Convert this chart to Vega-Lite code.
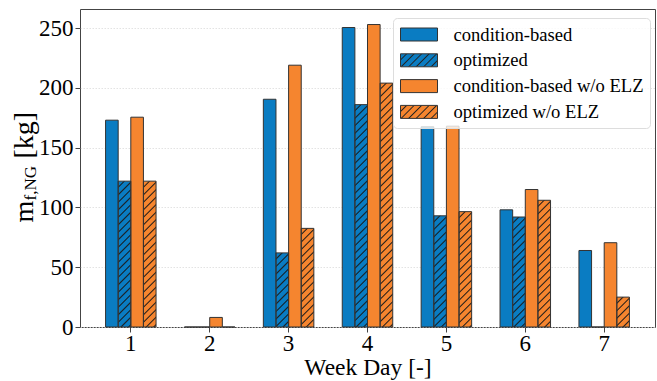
{
  "$schema": "https://vega.github.io/schema/vega-lite/v6.json",
  "width": 575,
  "height": 318,
  "autosize": {"type": "none"},
  "padding": {"left": 80, "top": 9, "right": 2, "bottom": 54},
  "params": [
    {"name": "hatch", "value": [
      {"offset":0.016,"color":"rgba(0,0,0,0)"},{"offset":0.0205,"color":"#222"},{"offset":0.025,"color":"rgba(0,0,0,0)"},
      {"offset":0.041,"color":"rgba(0,0,0,0)"},{"offset":0.0455,"color":"#222"},{"offset":0.05,"color":"rgba(0,0,0,0)"},
      {"offset":0.066,"color":"rgba(0,0,0,0)"},{"offset":0.0705,"color":"#222"},{"offset":0.075,"color":"rgba(0,0,0,0)"},
      {"offset":0.091,"color":"rgba(0,0,0,0)"},{"offset":0.0955,"color":"#222"},{"offset":0.1,"color":"rgba(0,0,0,0)"},
      {"offset":0.116,"color":"rgba(0,0,0,0)"},{"offset":0.1205,"color":"#222"},{"offset":0.125,"color":"rgba(0,0,0,0)"},
      {"offset":0.141,"color":"rgba(0,0,0,0)"},{"offset":0.1455,"color":"#222"},{"offset":0.15,"color":"rgba(0,0,0,0)"},
      {"offset":0.166,"color":"rgba(0,0,0,0)"},{"offset":0.1705,"color":"#222"},{"offset":0.175,"color":"rgba(0,0,0,0)"},
      {"offset":0.191,"color":"rgba(0,0,0,0)"},{"offset":0.1955,"color":"#222"},{"offset":0.2,"color":"rgba(0,0,0,0)"},
      {"offset":0.216,"color":"rgba(0,0,0,0)"},{"offset":0.2205,"color":"#222"},{"offset":0.225,"color":"rgba(0,0,0,0)"},
      {"offset":0.241,"color":"rgba(0,0,0,0)"},{"offset":0.2455,"color":"#222"},{"offset":0.25,"color":"rgba(0,0,0,0)"},
      {"offset":0.266,"color":"rgba(0,0,0,0)"},{"offset":0.2705,"color":"#222"},{"offset":0.275,"color":"rgba(0,0,0,0)"},
      {"offset":0.291,"color":"rgba(0,0,0,0)"},{"offset":0.2955,"color":"#222"},{"offset":0.3,"color":"rgba(0,0,0,0)"},
      {"offset":0.316,"color":"rgba(0,0,0,0)"},{"offset":0.3205,"color":"#222"},{"offset":0.325,"color":"rgba(0,0,0,0)"},
      {"offset":0.341,"color":"rgba(0,0,0,0)"},{"offset":0.3455,"color":"#222"},{"offset":0.35,"color":"rgba(0,0,0,0)"},
      {"offset":0.366,"color":"rgba(0,0,0,0)"},{"offset":0.3705,"color":"#222"},{"offset":0.375,"color":"rgba(0,0,0,0)"},
      {"offset":0.391,"color":"rgba(0,0,0,0)"},{"offset":0.3955,"color":"#222"},{"offset":0.4,"color":"rgba(0,0,0,0)"},
      {"offset":0.416,"color":"rgba(0,0,0,0)"},{"offset":0.4205,"color":"#222"},{"offset":0.425,"color":"rgba(0,0,0,0)"},
      {"offset":0.441,"color":"rgba(0,0,0,0)"},{"offset":0.4455,"color":"#222"},{"offset":0.45,"color":"rgba(0,0,0,0)"},
      {"offset":0.466,"color":"rgba(0,0,0,0)"},{"offset":0.4705,"color":"#222"},{"offset":0.475,"color":"rgba(0,0,0,0)"},
      {"offset":0.491,"color":"rgba(0,0,0,0)"},{"offset":0.4955,"color":"#222"},{"offset":0.5,"color":"rgba(0,0,0,0)"},
      {"offset":0.516,"color":"rgba(0,0,0,0)"},{"offset":0.5205,"color":"#222"},{"offset":0.525,"color":"rgba(0,0,0,0)"},
      {"offset":0.541,"color":"rgba(0,0,0,0)"},{"offset":0.5455,"color":"#222"},{"offset":0.55,"color":"rgba(0,0,0,0)"},
      {"offset":0.566,"color":"rgba(0,0,0,0)"},{"offset":0.5705,"color":"#222"},{"offset":0.575,"color":"rgba(0,0,0,0)"},
      {"offset":0.591,"color":"rgba(0,0,0,0)"},{"offset":0.5955,"color":"#222"},{"offset":0.6,"color":"rgba(0,0,0,0)"},
      {"offset":0.616,"color":"rgba(0,0,0,0)"},{"offset":0.6205,"color":"#222"},{"offset":0.625,"color":"rgba(0,0,0,0)"},
      {"offset":0.641,"color":"rgba(0,0,0,0)"},{"offset":0.6455,"color":"#222"},{"offset":0.65,"color":"rgba(0,0,0,0)"},
      {"offset":0.666,"color":"rgba(0,0,0,0)"},{"offset":0.6705,"color":"#222"},{"offset":0.675,"color":"rgba(0,0,0,0)"},
      {"offset":0.691,"color":"rgba(0,0,0,0)"},{"offset":0.6955,"color":"#222"},{"offset":0.7,"color":"rgba(0,0,0,0)"},
      {"offset":0.716,"color":"rgba(0,0,0,0)"},{"offset":0.7205,"color":"#222"},{"offset":0.725,"color":"rgba(0,0,0,0)"},
      {"offset":0.741,"color":"rgba(0,0,0,0)"},{"offset":0.7455,"color":"#222"},{"offset":0.75,"color":"rgba(0,0,0,0)"},
      {"offset":0.766,"color":"rgba(0,0,0,0)"},{"offset":0.7705,"color":"#222"},{"offset":0.775,"color":"rgba(0,0,0,0)"},
      {"offset":0.791,"color":"rgba(0,0,0,0)"},{"offset":0.7955,"color":"#222"},{"offset":0.8,"color":"rgba(0,0,0,0)"},
      {"offset":0.816,"color":"rgba(0,0,0,0)"},{"offset":0.8205,"color":"#222"},{"offset":0.825,"color":"rgba(0,0,0,0)"},
      {"offset":0.841,"color":"rgba(0,0,0,0)"},{"offset":0.8455,"color":"#222"},{"offset":0.85,"color":"rgba(0,0,0,0)"},
      {"offset":0.866,"color":"rgba(0,0,0,0)"},{"offset":0.8705,"color":"#222"},{"offset":0.875,"color":"rgba(0,0,0,0)"}
    ]},
    {"name": "legB", "value": [
      {"offset":0,"color":"#0a7cc2"},
      {"offset":0.08,"color":"#0a7cc2"},{"offset":0.1025,"color":"#222"},{"offset":0.125,"color":"#0a7cc2"},
      {"offset":0.205,"color":"#0a7cc2"},{"offset":0.2275,"color":"#222"},{"offset":0.25,"color":"#0a7cc2"},
      {"offset":0.33,"color":"#0a7cc2"},{"offset":0.3525,"color":"#222"},{"offset":0.375,"color":"#0a7cc2"},
      {"offset":0.455,"color":"#0a7cc2"},{"offset":0.4775,"color":"#222"},{"offset":0.5,"color":"#0a7cc2"},
      {"offset":0.58,"color":"#0a7cc2"},{"offset":0.6025,"color":"#222"},{"offset":0.625,"color":"#0a7cc2"},
      {"offset":0.705,"color":"#0a7cc2"},{"offset":0.7275,"color":"#222"},{"offset":0.75,"color":"#0a7cc2"},
      {"offset":0.83,"color":"#0a7cc2"},{"offset":0.8525,"color":"#222"},{"offset":0.875,"color":"#0a7cc2"}
    ]},
    {"name": "legO", "value": [
      {"offset":0,"color":"#f5852f"},
      {"offset":0.08,"color":"#f5852f"},{"offset":0.1025,"color":"#222"},{"offset":0.125,"color":"#f5852f"},
      {"offset":0.205,"color":"#f5852f"},{"offset":0.2275,"color":"#222"},{"offset":0.25,"color":"#f5852f"},
      {"offset":0.33,"color":"#f5852f"},{"offset":0.3525,"color":"#222"},{"offset":0.375,"color":"#f5852f"},
      {"offset":0.455,"color":"#f5852f"},{"offset":0.4775,"color":"#222"},{"offset":0.5,"color":"#f5852f"},
      {"offset":0.58,"color":"#f5852f"},{"offset":0.6025,"color":"#222"},{"offset":0.625,"color":"#f5852f"},
      {"offset":0.705,"color":"#f5852f"},{"offset":0.7275,"color":"#222"},{"offset":0.75,"color":"#f5852f"},
      {"offset":0.83,"color":"#f5852f"},{"offset":0.8525,"color":"#222"},{"offset":0.875,"color":"#f5852f"}
    ]}
  ],
  "data": {"values": [
    {"day": 1, "series": "condition-based", "mass": 173},
    {"day": 1, "series": "optimized", "mass": 122},
    {"day": 1, "series": "condition-based w/o ELZ", "mass": 175.5},
    {"day": 1, "series": "optimized w/o ELZ", "mass": 122},
    {"day": 2, "series": "condition-based", "mass": 0},
    {"day": 2, "series": "optimized", "mass": 0},
    {"day": 2, "series": "condition-based w/o ELZ", "mass": 8},
    {"day": 2, "series": "optimized w/o ELZ", "mass": 0},
    {"day": 3, "series": "condition-based", "mass": 190.5},
    {"day": 3, "series": "optimized", "mass": 62},
    {"day": 3, "series": "condition-based w/o ELZ", "mass": 219},
    {"day": 3, "series": "optimized w/o ELZ", "mass": 82.5},
    {"day": 4, "series": "condition-based", "mass": 250.5},
    {"day": 4, "series": "optimized", "mass": 186},
    {"day": 4, "series": "condition-based w/o ELZ", "mass": 253},
    {"day": 4, "series": "optimized w/o ELZ", "mass": 204},
    {"day": 5, "series": "condition-based", "mass": 167.5},
    {"day": 5, "series": "optimized", "mass": 93},
    {"day": 5, "series": "condition-based w/o ELZ", "mass": 168},
    {"day": 5, "series": "optimized w/o ELZ", "mass": 96.5},
    {"day": 6, "series": "condition-based", "mass": 98},
    {"day": 6, "series": "optimized", "mass": 92},
    {"day": 6, "series": "condition-based w/o ELZ", "mass": 115},
    {"day": 6, "series": "optimized w/o ELZ", "mass": 106},
    {"day": 7, "series": "condition-based", "mass": 64},
    {"day": 7, "series": "optimized", "mass": 0},
    {"day": 7, "series": "condition-based w/o ELZ", "mass": 70.5},
    {"day": 7, "series": "optimized w/o ELZ", "mass": 25}
  ]},
  "encoding": {
    "x": {
      "field": "day", "type": "ordinal",
      "scale": {"paddingInner": 0.36, "paddingOuter": 0.324},
      "axis": {
        "title": "Week Day [-]", "titleFont": "Liberation Serif", "titleFontSize": 23.5, "titleBaseline": "alphabetic",
        "titleX": 287.5, "titleY": 47, "titleAlign": "center",
        "labelAngle": 0, "labelFont": "Liberation Serif", "labelFontSize": 23, "tickSize": 5, "labelPadding": 0,
        "domain": false, "tickColor": "#444", "grid": false
      }
    },
    "xOffset": {
      "field": "series", "type": "nominal",
      "scale": {"domain": ["condition-based", "optimized", "condition-based w/o ELZ", "optimized w/o ELZ"], "paddingInner": 0, "paddingOuter": 0}
    }
  },
  "layer": [
    {
      "mark": {"type": "bar"},
      "encoding": {
        "y": {
          "field": "mass", "type": "quantitative", "stack": null,
          "scale": {"domain": [0, 266], "nice": false},
          "axis": {
            "orient": "left", "title": "m", "titleFont": "Liberation Serif", "titleFontSize": 28, "titleAngle": 270,
            "titleAlign": "left", "titleBaseline": "alphabetic", "titleX": -48, "titleY": 213,
            "values": [0, 50, 100, 150, 200, 250], "labelFont": "Liberation Serif", "labelFontSize": 23, "tickSize": 5, "labelPadding": 2,
            "grid": true, "gridColor": "#dcdcdc", "gridDash": [1.5, 1.5], "gridWidth": 0.8,
            "domain": false, "tickColor": "#444"
          }
        },
        "fill": {
          "field": "series", "type": "nominal",
          "scale": {"range": ["#0a7cc2", "#f5852f", "#0a7cc2", "#f5852f"]},
          "legend": null
        }
      }
    },
    {
      "transform": [{"filter": "indexof(datum.series, 'optimized') === 0"}],
      "mark": {"type": "bar"},
      "encoding": {
        "y": {
          "field": "mass", "type": "quantitative", "stack": null,
          "scale": {"domain": [0, 266], "nice": false},
          "axis": {
            "orient": "left", "title": "f,NG", "titleFont": "Liberation Serif", "titleFontSize": 17, "titleAngle": 270,
            "titleAlign": "left", "titleBaseline": "alphabetic", "titleX": -45, "titleY": 191,
            "labels": false, "ticks": false, "domain": false, "grid": false
          }
        },
        "fill": {"value": {"expr": "{gradient: 'linear', x1: 0, y1: 0, x2: 300 * bandwidth('xOffset') / (pow(bandwidth('xOffset'), 2) + pow(scale('y', 0) - scale('y', datum.mass), 2)), y2: 300 * (scale('y', 0) - scale('y', datum.mass)) / (pow(bandwidth('xOffset'), 2) + pow(scale('y', 0) - scale('y', datum.mass), 2)), stops: hatch}"}}
      }
    },
    {
      "mark": {"type": "bar", "fill": "transparent", "stroke": "#333", "strokeWidth": 1},
      "encoding": {
        "y": {
          "field": "mass", "type": "quantitative", "stack": null,
          "scale": {"domain": [0, 266], "nice": false},
          "axis": {
            "orient": "left", "title": "[kg]", "titleFont": "Liberation Serif", "titleFontSize": 28, "titleAngle": 270,
            "titleAlign": "left", "titleBaseline": "alphabetic", "titleX": -48, "titleY": 149,
            "labels": false, "ticks": false, "domain": false, "grid": false
          }
        }
      }
    },
    {
      "transform": [{"filter": "false"}],
      "mark": {"type": "bar"},
      "encoding": {
        "y": {
          "field": "mass", "type": "quantitative", "stack": null,
          "scale": {"domain": [0, 266], "nice": false},
          "axis": null
        },
        "color": {
          "field": "series", "type": "nominal",
          "scale": {
            "domain": ["condition-based", "optimized", "condition-based w/o ELZ", "optimized w/o ELZ"],
            "range": [
              "#0a7cc2",
              {"expr": "{gradient: 'linear', x1: 0, y1: 0, x2: 1.4434, y2: 0.5072, stops: legB}"},
              "#f5852f",
              {"expr": "{gradient: 'linear', x1: 0, y1: 0, x2: 1.4434, y2: 0.5072, stops: legO}"}
            ]
          },
          "legend": {
            "orient": "none", "legendX": 313, "legendY": 9, "title": null,
            "symbolType": "M-1.85,-0.65H1.85V0.65H-1.85Z", "symbolSize": 400,
            "symbolStrokeColor": "#333", "symbolStrokeWidth": 1, "symbolOpacity": 1,
            "labelFont": "Liberation Serif", "labelFontSize": 18.6, "labelColor": "#000", "labelLimit": 400,
            "padding": 6, "rowPadding": 4.8, "symbolOffset": 9.5, "labelOffset": 24,
            "fillColor": "rgba(255,255,255,0.8)", "strokeColor": "#dddddd", "cornerRadius": 4
          }
        }
      }
    }
  ],
  "resolve": {"scale": {"y": "shared"}, "axis": {"y": "independent"}},
  "config": {
    "view": {"stroke": "#444", "strokeWidth": 1},
    "font": "Liberation Serif",
    "axis": {
      "labelFont": "Liberation Serif", "titleFont": "Liberation Serif",
      "labelColor": "#000", "titleColor": "#000", "titleFontWeight": "normal"
    },
    "legend": {"labelFont": "Liberation Serif"}
  }
}
